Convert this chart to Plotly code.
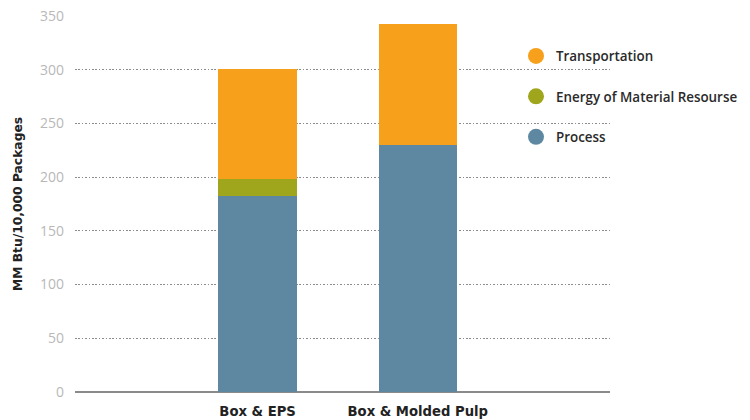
import plotly.graph_objects as go

categories = ["Box & EPS", "Box & Molded Pulp"]
process = [182, 230]
energy = [16, 0]
transportation = [103, 113]

series = [
    ("Process", process, "#5E88A1"),
    ("Energy of Material Resourse", energy, "#9FA61C"),
    ("Transportation", transportation, "#F6A01C"),
]

fig = go.Figure()
for name, vals, color in series:
    fig.add_trace(go.Bar(
        x=categories, y=vals, name=name, marker=dict(color=color, line=dict(width=0)),
        width=0.49, showlegend=False,
    ))

# legend entries with circular symbols
for name, vals, color in reversed(series):
    fig.add_trace(go.Scatter(
        x=[None], y=[None], mode="markers", name=name,
        marker=dict(color=color, size=18, symbol="circle"),
        legendgroup=name, showlegend=True,
    ))

fig.update_layout(
    width=750, height=420,
    barmode="stack",
    plot_bgcolor="white", paper_bgcolor="white",
    margin=dict(l=75, r=140, t=16, b=28, autoexpand=False),
    font=dict(family="Open Sans", color="#222"),
    legend=dict(
        xref="container", yref="container",
        x=0.688, xanchor="left", y=0.903, yanchor="top",
        font=dict(size=13.4, family="Open Sans", weight=600, color="#2a2a2a"),
        itemsizing="trace", tracegroupgap=20,
        traceorder="grouped", bgcolor="rgba(0,0,0,0)",
    ),
    xaxis=dict(
        type="category", range=[-1.14, 2.2], automargin=False,
        showgrid=False, zeroline=False, showline=False,
        ticks="", ticklabelstandoff=10,
        tickfont=dict(size=13.2, family="DejaVu Sans", weight="bold", color="#222"),
    ),
    yaxis=dict(
        range=[0, 350], tickvals=[0, 50, 100, 150, 200, 250, 300, 350],
        automargin=False,
        showgrid=True, gridcolor="#8c8c8c", griddash="1.6px,1.8px", gridwidth=1.4,
        zeroline=True, zerolinecolor="#8a8a8a", zerolinewidth=2,
        showline=False, ticks="", ticklabelstandoff=10,
        tickfont=dict(size=14, color="#b8b8b8", family="Open Sans"),
        title=dict(text="MM Btu/10,000 Packages", standoff=14,
                   font=dict(size=12.3, family="DejaVu Sans", weight="bold", color="#222")),
    ),
)

fig.write_html("out.html")
